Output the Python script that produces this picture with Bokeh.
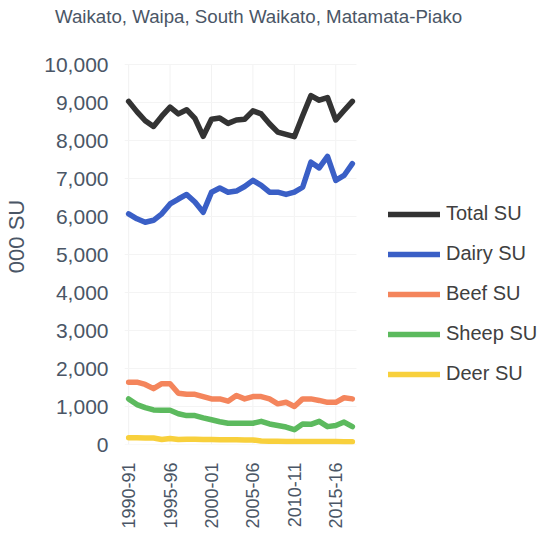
import math
from bokeh.plotting import figure
from bokeh.models import (Range1d, FixedTicker, NumeralTickFormatter, Legend, LegendItem, Div)
from bokeh.layouts import column
from bokeh.embed import file_html
from bokeh.resources import INLINE

title_text = "Waikato, Waipa, South Waikato, Matamata-Piako"
years = ["1990-91", "1991-92", "1992-93", "1993-94", "1994-95", "1995-96", "1996-97",
         "1997-98", "1998-99", "1999-00", "2000-01", "2001-02", "2002-03", "2003-04",
         "2004-05", "2005-06", "2006-07", "2007-08", "2008-09", "2009-10", "2010-11",
         "2011-12", "2012-13", "2013-14", "2014-15", "2015-16", "2016-17", "2017-18"]
total = [9030, 8760, 8520, 8370, 8640, 8880, 8700, 8810, 8580, 8110, 8560, 8590, 8450, 8540,
         8560, 8780, 8700, 8440, 8220, 8160, 8100, 8650, 9180, 9060, 9130, 8540, 8790, 9030]
dairy = [6070, 5940, 5850, 5900, 6070, 6330, 6460, 6580, 6380, 6110, 6640, 6750, 6640, 6670,
         6790, 6950, 6820, 6640, 6640, 6580, 6640, 6770, 7430, 7280, 7580, 6950, 7080, 7390]
beef = [1640, 1640, 1580, 1470, 1600, 1600, 1350, 1320, 1320, 1260, 1200, 1200, 1140, 1290,
        1200, 1260, 1260, 1200, 1070, 1110, 1000, 1200, 1200, 1160, 1110, 1110, 1230, 1200]
sheep = [1200, 1050, 970, 910, 900, 900, 810, 760, 760, 700, 650, 600, 560, 560,
         560, 560, 610, 540, 500, 460, 390, 540, 530, 610, 470, 500, 590, 470]
deer = [175, 175, 170, 170, 130, 160, 130, 140, 135, 130, 130, 125, 125, 125,
        120, 120, 90, 85, 85, 80, 80, 80, 80, 80, 80, 80, 75, 75]
tick_idx = [0, 5, 10, 15, 20, 25]
y_ticks = list(range(0, 10001, 1000))

series = [("Total SU", total, "#333333"),
          ("Dairy SU", dairy, "#3a5fc6"),
          ("Beef SU", beef, "#f4855c"),
          ("Sheep SU", sheep, "#5cba5e"),
          ("Deer SU", deer, "#f8d03c")]

FONT = "Liberation Sans"
TXT = "#4a5666"

title = Div(text=title_text, width=539, height=28,
            styles={"font-family": FONT, "font-size": "18.7px", "color": TXT,
                    "line-height": "18px", "padding-left": "55px", "padding-top": "8px",
                    "margin": "0", "white-space": "nowrap", "box-sizing": "border-box"})

p = figure(width=539, height=508, output_backend="svg", toolbar_location=None,
           x_range=Range1d(-0.5, 49.586), y_range=Range1d(0, 10947.4),
           min_border_left=124, min_border_right=0, min_border_top=0, min_border_bottom=92)
p.outline_line_color = None

xs = list(range(len(years)))
items = []
for name, vals, col in series:
    r = p.line(xs, vals, line_color=col, line_width=5.5, line_join="round", line_cap="round")
    items.append(LegendItem(label=name, renderers=[r]))

leg = Legend(items=items, location=(264, 59), padding=0, margin=0, spacing=17,
             glyph_width=52, glyph_height=20, label_height=20, label_standoff=6,
             label_text_font=FONT, label_text_font_size="20px", label_text_color="#404040",
             border_line_color=None, background_fill_alpha=0)
p.add_layout(leg, "center")

p.xaxis.ticker = FixedTicker(ticks=tick_idx)
p.xaxis.major_label_overrides = {i: years[i] for i in tick_idx}
p.xaxis.major_label_orientation = math.pi / 2
p.xaxis.major_label_standoff = 18
p.xaxis.major_label_text_font = FONT
p.xaxis.major_label_text_font_size = "18px"
p.xaxis.major_label_text_color = TXT

p.yaxis.ticker = FixedTicker(ticks=y_ticks)
p.yaxis.formatter = NumeralTickFormatter(format="0,0")
p.yaxis.major_label_standoff = 16
p.yaxis.major_label_text_font = FONT
p.yaxis.major_label_text_font_size = "21px"
p.yaxis.major_label_text_color = TXT
p.yaxis.axis_label = "000 SU"
p.yaxis.axis_label_text_font = FONT
p.yaxis.axis_label_text_font_size = "22px"
p.yaxis.axis_label_text_font_style = "normal"
p.yaxis.axis_label_text_color = TXT
p.yaxis.axis_label_standoff = 12

for ax in (p.xaxis, p.yaxis):
    ax.axis_line_color = None
    ax.major_tick_line_color = None
    ax.minor_tick_line_color = None
    ax.major_tick_out = 0
    ax.major_tick_in = 0
    ax.minor_tick_out = 0
    ax.minor_tick_in = 0

p.xgrid.visible = False
p.ygrid.visible = False
for i in tick_idx:
    p.segment(x0=[i], y0=[0], x1=[i], y1=[10000], line_color="#f2f2f2", line_width=1, level="underlay")
p.segment(x0=[-0.5] * len(y_ticks), y0=y_ticks, x1=[27.5] * len(y_ticks), y1=y_ticks,
          line_color="#f4f4f4", line_width=1, level="underlay")

layout = column(title, p, spacing=0)
open("out.html", "w").write(file_html(layout, INLINE))
